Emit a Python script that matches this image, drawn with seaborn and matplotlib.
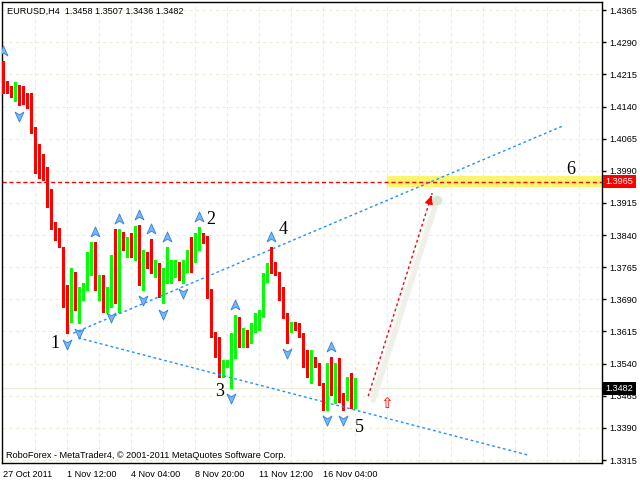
import matplotlib
matplotlib.use("Agg")
import matplotlib.pyplot as plt
import matplotlib.transforms as mtransforms
from matplotlib.path import Path
import seaborn as sns

# EURUSD H4 candles
opens = [
    1.4244, 1.4188, 1.4183, 1.4171, 1.4178, 1.4164, 1.4162, 1.4150, 1.4092, 1.3996,
    1.3996, 1.3989, 1.3947, 1.3859, 1.3845, 1.3812, 1.3700, 1.3649, 1.3733, 1.3695,
    1.3700, 1.3719, 1.3751, 1.3805, 1.3742, 1.3747, 1.3667, 1.3705, 1.3775, 1.3684,
    1.3831, 1.3810, 1.3821, 1.3814, 1.3845, 1.3728, 1.3793, 1.3831, 1.3756, 1.3763,
    1.3705, 1.3737, 1.3744, 1.3754, 1.3758, 1.3754, 1.3756, 1.3789, 1.3782, 1.3831,
    1.3842, 1.3838, 1.3705, 1.3614, 1.3602, 1.3541, 1.3541, 1.3541, 1.3602, 1.3639,
    1.3602, 1.3611, 1.3595, 1.3618, 1.3635, 1.3653, 1.3744, 1.3810, 1.3763, 1.3749,
    1.3698, 1.3646, 1.3618, 1.3630, 1.3623, 1.3609, 1.3544, 1.3537, 1.3544, 1.3537,
    1.3495, 1.3448, 1.3537, 1.3474, 1.3525, 1.3462, 1.3462, 1.3506, 1.3458]
highs = [
    1.4246, 1.4199, 1.4188, 1.4197, 1.4190, 1.4188, 1.4171, 1.4171, 1.4092, 1.4052,
    1.4029, 1.3999, 1.3947, 1.3870, 1.3856, 1.3812, 1.3723, 1.3763, 1.3754, 1.3719,
    1.3728, 1.3800, 1.3824, 1.3824, 1.3747, 1.3747, 1.3719, 1.3793, 1.3854, 1.3854,
    1.3847, 1.3835, 1.3845, 1.3861, 1.3863, 1.3805, 1.3800, 1.3831, 1.3782, 1.3775,
    1.3763, 1.3812, 1.3782, 1.3782, 1.3777, 1.3782, 1.3805, 1.3835, 1.3845, 1.3859,
    1.3845, 1.3838, 1.3714, 1.3614, 1.3602, 1.3548, 1.3548, 1.3611, 1.3653, 1.3649,
    1.3623, 1.3618, 1.3635, 1.3658, 1.3665, 1.3751, 1.3775, 1.3812, 1.3777, 1.3754,
    1.3719, 1.3658, 1.3637, 1.3637, 1.3635, 1.3611, 1.3572, 1.3572, 1.3555, 1.3541,
    1.3495, 1.3541, 1.3555, 1.3541, 1.3553, 1.3471, 1.3509, 1.3518, 1.3507]
lows = [
    1.4171, 1.4171, 1.4162, 1.4153, 1.4143, 1.4146, 1.4136, 1.4078, 1.3985, 1.3973,
    1.3968, 1.3905, 1.3854, 1.3828, 1.3812, 1.3672, 1.3611, 1.3637, 1.3665, 1.3635,
    1.3688, 1.3712, 1.3747, 1.3712, 1.3688, 1.3660, 1.3660, 1.3672, 1.3681, 1.3660,
    1.3805, 1.3789, 1.3789, 1.3782, 1.3723, 1.3712, 1.3763, 1.3751, 1.3742, 1.3695,
    1.3681, 1.3728, 1.3728, 1.3742, 1.3735, 1.3728, 1.3754, 1.3754, 1.3777, 1.3805,
    1.3821, 1.3693, 1.3602, 1.3555, 1.3509, 1.3509, 1.3532, 1.3483, 1.3553, 1.3579,
    1.3579, 1.3579, 1.3588, 1.3614, 1.3618, 1.3649, 1.3730, 1.3751, 1.3747, 1.3688,
    1.3646, 1.3588, 1.3614, 1.3618, 1.3602, 1.3532, 1.3509, 1.3495, 1.3532, 1.3490,
    1.3432, 1.3432, 1.3467, 1.3448, 1.3450, 1.3432, 1.3455, 1.3436, 1.3436]
closes = [
    1.4178, 1.4183, 1.4171, 1.4176, 1.4162, 1.4160, 1.4146, 1.4092, 1.3996, 1.3994,
    1.3989, 1.3940, 1.3859, 1.3845, 1.3812, 1.3698, 1.3646, 1.3735, 1.3693, 1.3707,
    1.3719, 1.3754, 1.3805, 1.3744, 1.3744, 1.3667, 1.3707, 1.3775, 1.3684, 1.3828,
    1.3812, 1.3814, 1.3814, 1.3845, 1.3728, 1.3800, 1.3789, 1.3754, 1.3765, 1.3705,
    1.3742, 1.3744, 1.3775, 1.3775, 1.3747, 1.3775, 1.3789, 1.3777, 1.3833, 1.3838,
    1.3838, 1.3695, 1.3611, 1.3602, 1.3541, 1.3544, 1.3544, 1.3602, 1.3637, 1.3623,
    1.3614, 1.3590, 1.3625, 1.3637, 1.3656, 1.3747, 1.3749, 1.3754, 1.3749, 1.3695,
    1.3646, 1.3618, 1.3632, 1.3623, 1.3607, 1.3541, 1.3534, 1.3541, 1.3537, 1.3495,
    1.3448, 1.3537, 1.3474, 1.3530, 1.3462, 1.3453, 1.3506, 1.3455, 1.3482]

date_idx = [0, 16, 32, 48, 64, 80]
date_labels = ['27 Oct 2011', '1 Nov 12:00', '4 Nov 04:00', '8 Nov 20:00',
               '11 Nov 12:00', '16 Nov 04:00']
price_ticks = [1.3315, 1.3390, 1.3465, 1.3540, 1.3615, 1.3690, 1.3765, 1.3840,
               1.3915, 1.3990, 1.4065, 1.4140, 1.4215, 1.4290, 1.4365]

# fractal arrows (candle indices)
fractal_up = [0, 23, 29, 34, 37, 41, 49, 58, 67, 82]
fractal_down = [4, 16, 19, 27, 35, 40, 45, 57, 71, 81, 85]

# channel lines and forecast
upper_x, upper_y = [17.5, 139.75], [1.3611, 1.4094]
lower_x, lower_y = [18.75, 131.0], [1.3600, 1.3327]
target = 1.3965
zone_lo, zone_hi, zone_start = 1.3952, 1.3978, 96
arrow_x, arrow_y = [91.25, 107.25], [1.3464, 1.3938]
shadow_x, shadow_y = [92.5, 108.5], [1.3455, 1.3922]
last_price = 1.3482

# wave labels: (text, candle x, price)
waves = [('1', 13, 1.3588), ('2', 52, 1.3877), ('3', 54, 1.3476),
         ('4', 70, 1.3852), ('5', 89, 1.3392), ('6', 142, 1.3994)]

sns.set_theme(style="white")
plt.rcParams['font.family'] = ['Liberation Sans', 'DejaVu Sans']

fig = plt.figure(figsize=(6.4, 4.8), dpi=100)
ax = fig.add_axes([2 / 640, 17 / 480, 600 / 640, 461 / 480])
ax.set_xlim(-0.3, 149.7)
ax.set_ylim(1.3308, 1.4384)

# grid
for k in range(8, 150, 8):
    ax.axvline(k, color='#EDEDD2', lw=0.8, ls=(0, (3, 3)), zorder=0)
for p in price_ticks:
    ax.axhline(p, color='#EDEDD2', lw=0.8, ls=(0, (3, 3)), zorder=0)

# zone + target line + bid line
ax.fill_between([zone_start, 149.7], zone_lo, zone_hi, color='#FBF66E', lw=0, zorder=1)
ax.axhline(target, color='red', lw=1, ls=(0, (3, 2)), zorder=2)
ax.axhline(last_price, color='#ECECD8', lw=0.8, zorder=1)

# candles
xs = list(range(len(opens)))
colors = ['#00FF00' if c >= o else '#FF0000' for o, c in zip(opens, closes)]
ax.vlines(xs, lows, highs, colors=colors, lw=1, antialiased=False, zorder=3)
bottoms = [min(o, c) for o, c in zip(opens, closes)]
heights = [max(abs(c - o), 0.00025) for o, c in zip(opens, closes)]
ax.bar(xs, heights, bottom=bottoms, width=0.75, color=colors, lw=0,
       antialiased=False, zorder=4)

# channel
sns.lineplot(x=upper_x, y=upper_y, ax=ax, color='#1E90FF', lw=1,
             linestyle=(0, (2, 2)), zorder=3)
sns.lineplot(x=lower_x, y=lower_y, ax=ax, color='#1E90FF', lw=1,
             linestyle=(0, (2, 2)), zorder=3)

# forecast arrow with pale shadow
ax.plot(shadow_x, shadow_y, color='#F0F0E6', lw=4, solid_capstyle='round', zorder=2)
ax.plot(shadow_x[1], shadow_y[1], 'o', ms=7, color='#D6E8D3', mec='none', zorder=2)
ax.plot(arrow_x, arrow_y, color='red', lw=1, ls=(0, (2, 2)), zorder=5)
ax.annotate('', xy=(arrow_x[1], arrow_y[1]),
            xytext=(arrow_x[1] - 0.5, arrow_y[1] - 0.0015),
            arrowprops=dict(arrowstyle='-|>', color='red', lw=1, mutation_scale=12),
            zorder=5)
ax.text(96, 1.3448, '\u21e7', color='red', fontsize=11, family='DejaVu Sans',
        ha='center', va='center', zorder=5)

# fractal arrows
up_path = Path([(0, 1), (0.8, -0.8), (0, -0.3), (-0.8, -0.8), (0, 1)],
               [Path.MOVETO, Path.LINETO, Path.LINETO, Path.LINETO, Path.CLOSEPOLY])
down_path = Path([(0, -1), (0.8, 0.8), (0, 0.3), (-0.8, 0.8), (0, -1)],
                 [Path.MOVETO, Path.LINETO, Path.LINETO, Path.LINETO, Path.CLOSEPOLY])
up_tr = mtransforms.offset_copy(ax.transData, fig=fig, y=7.5, units='points')
dn_tr = mtransforms.offset_copy(ax.transData, fig=fig, y=-7.5, units='points')
ax.plot(fractal_up, [highs[i] for i in fractal_up], ls='none', marker=up_path,
        ms=8, mfc='#78B8F5', mec='#2F7FE0', mew=0.6, transform=up_tr, zorder=6)
ax.plot(fractal_down, [lows[i] for i in fractal_down], ls='none', marker=down_path,
        ms=8, mfc='#78B8F5', mec='#2F7FE0', mew=0.6, transform=dn_tr, zorder=6)

# wave labels
for t, wx, wy in waves:
    ax.text(wx, wy, t, fontsize=13, family='Liberation Serif', color='black',
            ha='center', va='center', zorder=7)

# axes styling
for s in ax.spines.values():
    s.set_color('black')
    s.set_linewidth(1)
ax.yaxis.tick_right()
ax.set_yticks(price_ticks)
ax.set_yticklabels([f'{p:.4f}' for p in price_ticks])
ax.set_xticks(date_idx)
ax.set_xticklabels(date_labels, ha='left')
ax.tick_params(axis='both', which='major', length=3, width=1, color='black',
               labelsize=6.6, labelcolor='black', direction='out')
ax.tick_params(axis='y', pad=2)
ax.tick_params(axis='x', pad=2)
ax.grid(False)

# price labels on the right axis
blend = mtransforms.blended_transform_factory(ax.transAxes, ax.transData)
ax.text(1.006, target, '1.3965', transform=blend, color='white', fontsize=6.6,
        va='center', ha='left', zorder=10, clip_on=False,
        bbox=dict(boxstyle='square,pad=0.25', fc='red', ec='none'))
ax.text(1.006, last_price, '1.3482', transform=blend, color='white', fontsize=6.6,
        va='center', ha='left', zorder=10, clip_on=False,
        bbox=dict(boxstyle='square,pad=0.25', fc='black', ec='none'))

fig.text(7 / 640, 1 - 11 / 480, 'EURUSD,H4  1.3458 1.3507 1.3436 1.3482',
         fontsize=6.6, color='black', va='center', ha='left')
fig.text(6 / 640, 1 - 455 / 480,
         'RoboForex - MetaTrader4, \u00a9 2001-2011 MetaQuotes Software Corp.',
         fontsize=6.6, color='black', va='center', ha='left')

fig.savefig('out.png', dpi=100, facecolor='white')
